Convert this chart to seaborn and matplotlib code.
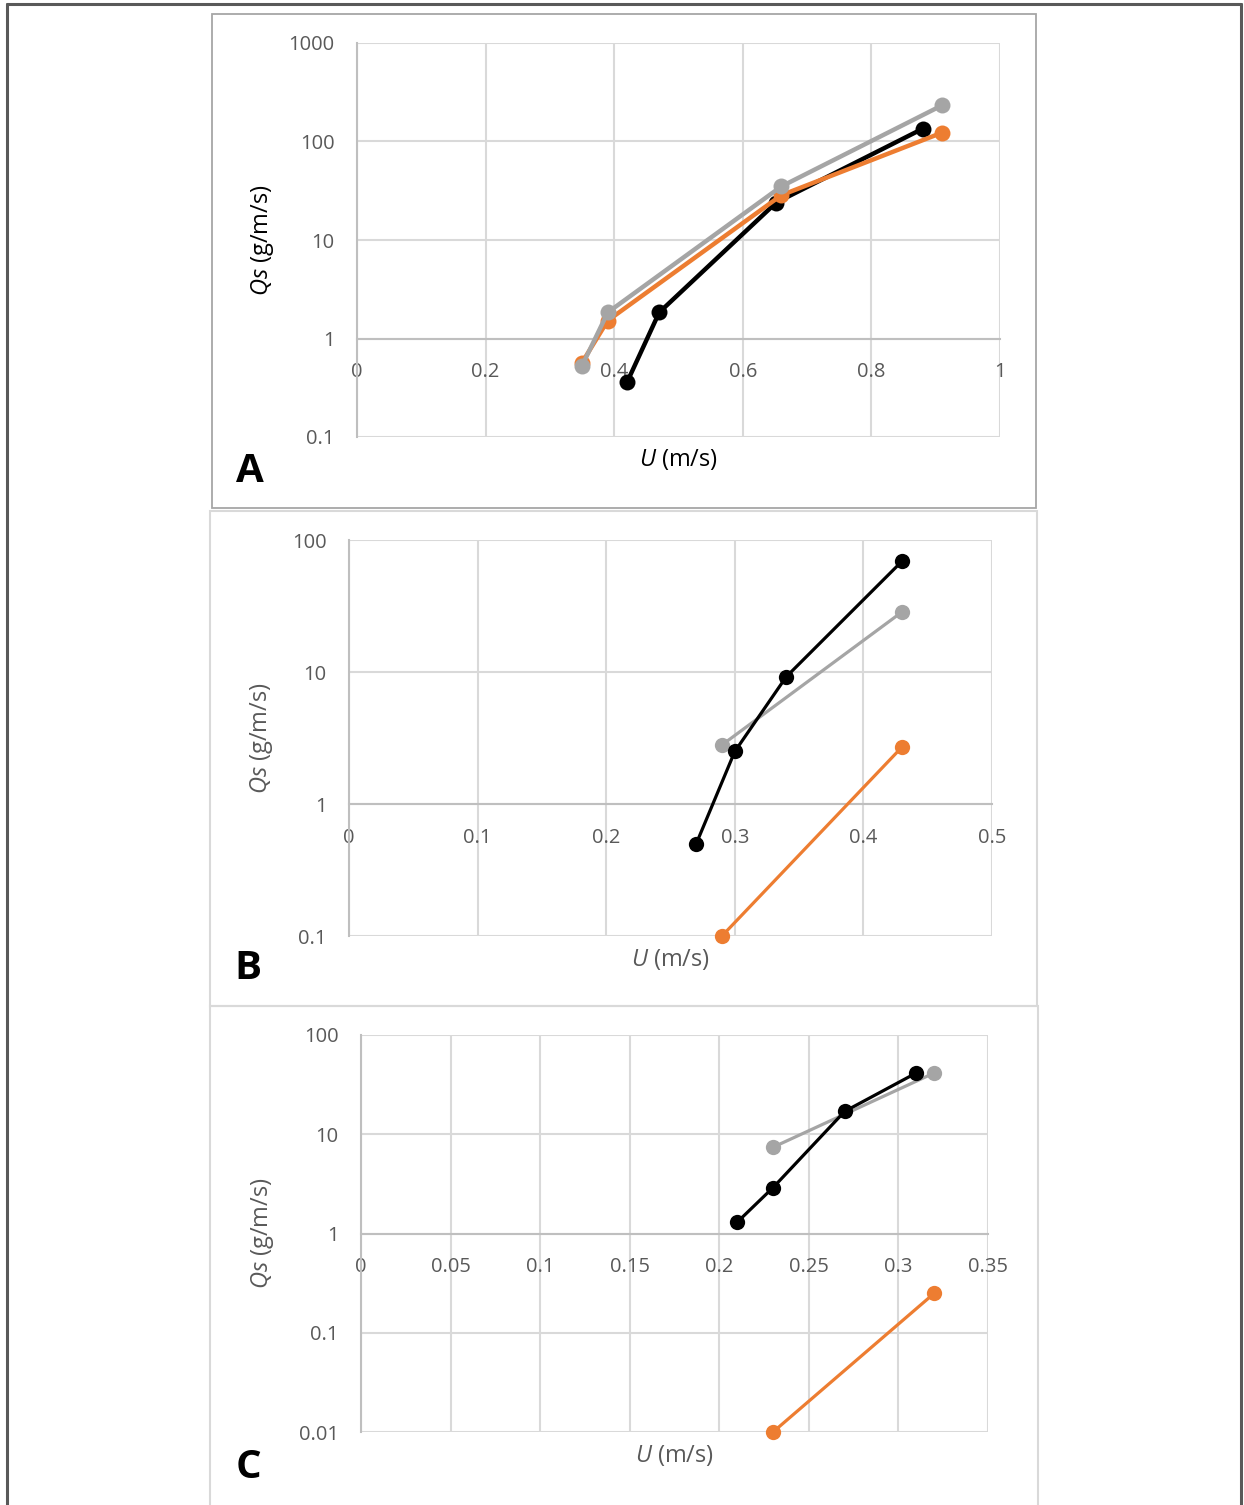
import numpy as np
import pandas as pd
import matplotlib
matplotlib.use('Agg')
import matplotlib.pyplot as plt
import seaborn as sns
from matplotlib.patches import Rectangle
from matplotlib.lines import Line2D

sns.set_style('white')
plt.rcParams['font.family'] = ['Open Sans', 'DejaVu Sans']
plt.rcParams['mathtext.fontset'] = 'custom'
plt.rcParams['mathtext.rm'] = 'Open Sans'
plt.rcParams['mathtext.it'] = 'Open Sans:italic'

# Panel A data (U in m/s, Qs in g/m/s)
a_black_u = [0.42, 0.47, 0.652, 0.88]
a_black_qs = [0.36, 1.84, 24, 135]
a_orange_u = [0.35, 0.39, 0.66, 0.91]
a_orange_qs = [0.57, 1.52, 28.5, 123]
a_gray_u = [0.35, 0.39, 0.66, 0.91]
a_gray_qs = [0.53, 1.84, 35, 233]

# Panel B data
b_black_u = [0.27, 0.30, 0.34, 0.43]
b_black_qs = [0.5, 2.5, 9.2, 69]
b_orange_u = [0.29, 0.43]
b_orange_qs = [0.1, 2.7]
b_gray_u = [0.29, 0.43]
b_gray_qs = [2.8, 28.5]

# Panel C data
c_black_u = [0.21, 0.23, 0.27, 0.31]
c_black_qs = [1.3, 2.9, 17, 41.5]
c_orange_u = [0.23, 0.32]
c_orange_qs = [0.01, 0.25]
c_gray_u = [0.23, 0.32]
c_gray_qs = [7.4, 41.5]

BLACK = '#000000'
ORANGE = '#ED7D31'
GRAY = '#A5A5A5'
TICK = '#595959'
GRID = '#D9D9D9'

W, H = 1244, 1505
fig = plt.figure(figsize=(W / 100, H / 100), dpi=100)


def px_axes(left, top, right, bottom):
    return fig.add_axes([left / W, 1 - bottom / H, (right - left) / W, (bottom - top) / H])


def px_rect(x0, y0, x1, y1, color, lw):
    fig.patches.append(Rectangle((x0 / W, 1 - y1 / H), (x1 - x0) / W, (y1 - y0) / H,
                                 transform=fig.transFigure, fill=False,
                                 edgecolor=color, linewidth=lw, zorder=0))


def panel(box, xmax, xstep, ydecades, series, letter, lw, ms, lab_color, ylab_off):
    left, top, right, bottom = box
    ax = px_axes(left, top, right, bottom)
    for u, qs, col in series:
        df = pd.DataFrame({'U': u, 'Qs': qs})
        sns.lineplot(data=df, x='U', y='Qs', ax=ax, color=col, marker='o',
                     markersize=ms, markeredgewidth=0, linewidth=lw, sort=False,
                     clip_on=False, zorder=3)
    ax.set_yscale('log')
    ax.set_ylim(ydecades[0], ydecades[-1])
    ax.set_xlim(0, xmax)
    xt = np.round(np.arange(0, xmax + xstep / 2, xstep), 3)
    ax.set_xticks(xt)
    ax.set_xticklabels(['0' if v == 0 else ('%g' % v) for v in xt])
    ax.set_yticks(ydecades)
    ax.set_yticklabels(['%g' % v for v in ydecades])
    ax.minorticks_off()
    ax.grid(True, color=GRID, linewidth=1.5)
    ax.set_axisbelow(True)
    for s in ['top', 'right']:
        ax.spines[s].set_visible(False)
    ax.spines['bottom'].set_position(('data', 1))
    ax.spines['bottom'].set_color('#BFBFBF')
    ax.spines['bottom'].set_linewidth(1.5)
    ax.spines['left'].set_color('#BFBFBF')
    ax.spines['left'].set_linewidth(1.5)
    ax.tick_params(axis='x', length=0, pad=17, labelsize=14.5, labelcolor=TICK)
    ax.tick_params(axis='y', length=0, pad=16, labelsize=14.5, labelcolor=TICK)
    ax.set_xlabel('')
    ax.set_ylabel('')
    w = right - left
    h = bottom - top
    ax.text(0.5, -23 / h, r'$\mathit{U}$ (m/s)', transform=ax.transAxes,
            ha='center', va='center', fontsize=17, color=lab_color)
    ax.text(-ylab_off / w, 0.5, r'$\mathit{Qs}$ (g/m/s)', transform=ax.transAxes,
            ha='center', va='center', rotation=90, fontsize=17, color=lab_color)
    fig.text(letter[1] / W, 1 - letter[2] / H, letter[0], ha='center', va='center',
             fontsize=29, fontweight='bold', color='black')
    return ax


# panel frames
px_rect(212, 14, 1036, 508, '#A6A6A6', 1.3)
px_rect(210, 511, 1037, 1006, GRID, 1.5)
px_rect(210, 1006, 1038, 1530, GRID, 1.5)

# outer frame (bottom edge falls outside the image)
for xs, ys in [([7, 7], [4, 1505]), ([1241, 1241], [4, 1505]), ([7, 1241], [4, 4])]:
    fig.add_artist(Line2D([x / W for x in xs], [1 - y / H for y in ys],
                          transform=fig.transFigure, color='#595959', linewidth=2.2))

panel((357, 43, 1000, 437), 1.0, 0.2, [0.1, 1, 10, 100, 1000],
      [(a_black_u, a_black_qs, BLACK), (a_orange_u, a_orange_qs, ORANGE),
       (a_gray_u, a_gray_qs, GRAY)],
      ('A', 250, 472), 3.2, 11.5, '#000000', 94)

panel((349, 540, 992, 936), 0.5, 0.1, [0.1, 1, 10, 100],
      [(b_gray_u, b_gray_qs, GRAY), (b_orange_u, b_orange_qs, ORANGE),
       (b_black_u, b_black_qs, BLACK)],
      ('B', 248, 968), 2.3, 11, TICK, 87)

panel((361, 1035, 988, 1432), 0.35, 0.05, [0.01, 0.1, 1, 10, 100],
      [(c_gray_u, c_gray_qs, GRAY), (c_orange_u, c_orange_qs, ORANGE),
       (c_black_u, c_black_qs, BLACK)],
      ('C', 248, 1468), 2.3, 11, TICK, 99)

fig.savefig('out.png', dpi=100)
